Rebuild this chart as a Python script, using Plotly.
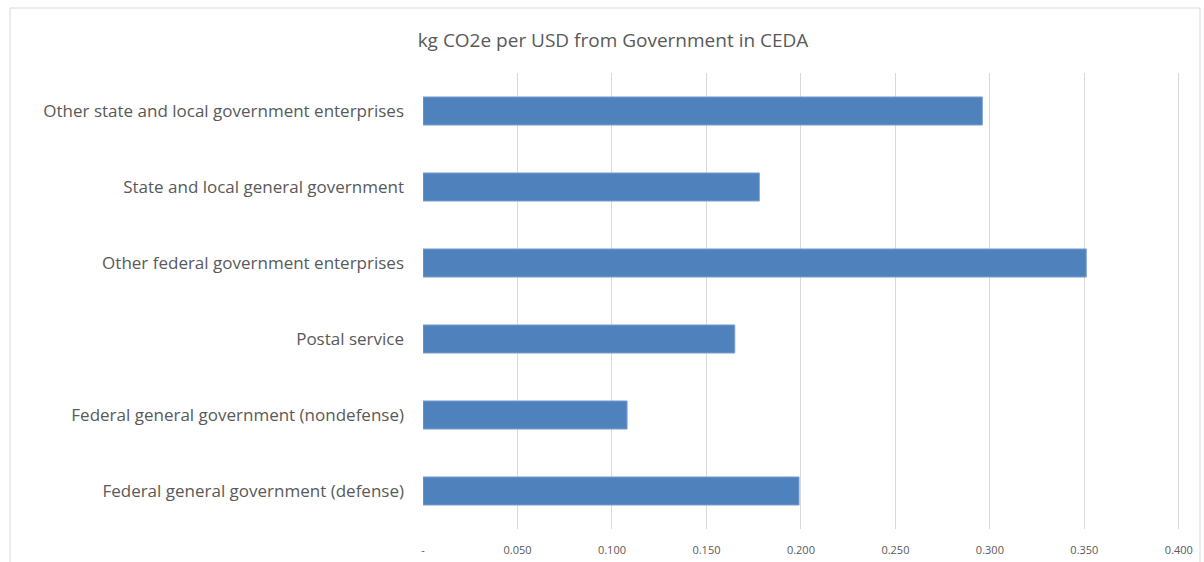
import plotly.graph_objects as go

# Sectors (bottom to top as drawn) and emission intensities
categories = [
    "Federal general government (defense)",
    "Federal general government (nondefense)",
    "Postal service",
    "Other federal government enterprises",
    "State and local general government",
    "Other state and local government enterprises",
]
kg_co2e_per_usd = [0.199, 0.108, 0.165, 0.351, 0.178, 0.296]

tick_values = [0, 0.05, 0.10, 0.15, 0.20, 0.25, 0.30, 0.35, 0.40]
tick_labels = ["-", "0.050", "0.100", "0.150", "0.200", "0.250", "0.300", "0.350", "0.400"]

FONT = "'Open Sans', Lato, sans-serif"
GREY_TEXT = "#595959"

# Plot area in pixels: x 423..1180, y 73..529
L, R, T, B = 423, 24, 73, 33
PW = 1204 - L - R
PH = 562 - T - B

fig = go.Figure(
    go.Bar(
        x=kg_co2e_per_usd,
        y=categories,
        orientation="h",
        marker=dict(color="#4f81bd", line=dict(color="#7fa3d0", width=1)),
        hoverinfo="x+y",
    )
)

fig.update_layout(
    width=1204,
    height=562,
    margin=dict(l=L, r=R, t=T, b=B, autoexpand=False),
    paper_bgcolor="white",
    plot_bgcolor="white",
    bargap=0.63,
    showlegend=False,
    title=dict(
        text="kg CO2e per USD from Government in CEDA",
        x=(613 - L) / PW,
        xref="paper",
        xanchor="center",
        y=1 - 40 / 562,
        yanchor="middle",
        font=dict(family=FONT, size=19, color=GREY_TEXT),
    ),
    font=dict(family=FONT, color=GREY_TEXT),
    shapes=[
        dict(
            type="rect",
            xref="paper",
            yref="paper",
            x0=(10 - L) / PW,
            x1=(1200 - L) / PW,
            y0=-0.2,
            y1=(529 - 8) / PH,
            line=dict(color="#d9d9d9", width=1),
            fillcolor="rgba(0,0,0,0)",
            layer="below",
        )
    ],
)

fig.update_xaxes(
    range=[0, 0.4006],
    tickvals=tick_values,
    ticktext=tick_labels,
    showgrid=True,
    gridcolor="#d9d9d9",
    gridwidth=1,
    zeroline=False,
    showline=False,
    ticks="",
    automargin=False,
    ticklabelstandoff=13,
    tickfont=dict(family=FONT, size=11, color=GREY_TEXT),
    fixedrange=True,
)

fig.update_yaxes(
    categoryorder="array",
    categoryarray=categories,
    showgrid=False,
    zeroline=False,
    showline=False,
    ticks="",
    automargin=False,
    ticklabelstandoff=18,
    tickfont=dict(family=FONT, size=17, color=GREY_TEXT),
    fixedrange=True,
)

fig.write_html("out.html")
